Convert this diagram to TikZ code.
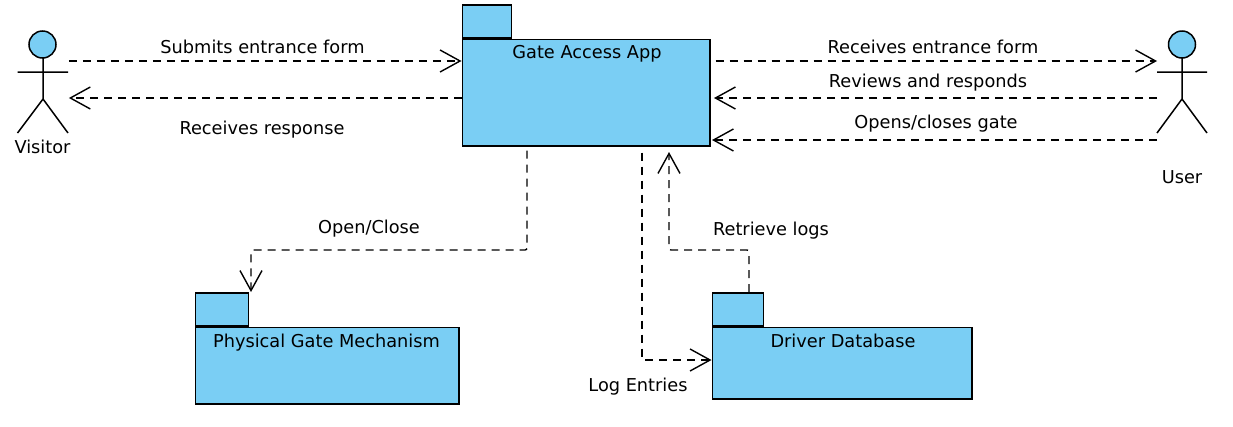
\documentclass[tikz,border=0pt]{standalone}
\usepackage{fontspec}
\setmainfont{DejaVu Sans}
\usepackage{xcolor}
\usetikzlibrary{arrows.meta,positioning}
\definecolor{pkgblue}{RGB}{122,206,244}
\tikzstyle{line} = [draw, line width=1.4pt, dash pattern=on 8pt off 6pt, rounded corners=2pt, -{Straight Barb[length=20pt,width=22pt,line width=1.4pt]}]

\begin{document}
\begin{tikzpicture}[x=1pt, y=-1pt, font=\fontsize{17.75pt}{21pt}\selectfont,
    pkgbody/.style={rectangle, draw, line width=1.5pt, fill=pkgblue, anchor=north west, inner sep=0pt},
    pkgtab/.style={rectangle, draw, line width=1.5pt, fill=pkgblue, anchor=south west, inner sep=0pt, minimum height=33pt},
    pkgname/.style={anchor=base, inner sep=0pt},
    actor/.style={rectangle, anchor=north west, inner sep=0pt, minimum width=51pt, minimum height=102pt},
    stick/.style={draw, line width=1.5pt},
    txt/.style={anchor=base, inner sep=0pt}]
    \useasboundingbox (0,0) rectangle (1233,426);

    % packages
    \node[pkgbody, minimum width=247.5pt, minimum height=106.5pt] (GateApp) at (461.5,38.5) {};
    \node[pkgtab, minimum width=49pt] (GateTab) at (GateApp.north west) {};
    \node[pkgname] (GateName) at (587,58) {Gate Access App};
    \node[pkgbody, minimum width=263.5pt, minimum height=76.5pt] (GateMech) at (194.5,326.5) {};
    \node[pkgtab, minimum width=53pt] (MechTab) at (GateMech.north west) {};
    \node[pkgname] (MechName) at (326.5,347) {Physical Gate Mechanism};
    \node[pkgbody, minimum width=259.5pt, minimum height=71.5pt] (DriverDb) at (711.5,326.5) {};
    \node[pkgtab, minimum width=51pt] (DbTab) at (DriverDb.north west) {};
    \node[pkgname] (DbName) at (843,347) {Driver Database};

    % actors
    \node[actor] (Visitor) at (17.5,31) {};
    \draw[stick, fill=pkgblue] (42.5,44.5) circle (13.5pt);
    \draw[stick] (43,58) -- (43,99) (17.5,72) -- (68,72) (17.5,133) -- (43,99) -- (68,133);
    \node[txt] (VisitorName) at (42.5,153) {Visitor};
    \node[actor] (User) at (1157,31) {};
    \draw[stick, fill=pkgblue] (1182,44.5) circle (13.5pt);
    \draw[stick] (1182,58) -- (1182,99) (1157,72) -- (1207,72) (1157,133) -- (1182,99) -- (1207,133);
    \node[txt] (UserName) at (1182,183) {User};

    \path [line] (Visitor.east |- 0,61) -- (GateApp.west |- 0,61);
    \path [line] (GateApp.west |- 0,98) -- (Visitor.east |- 0,98);
    \path [line] ([xshift=5pt]GateApp.east |- 0,61) -- (User.west |- 0,61);
    \path [line] (User.west |- 0,98) -- ([xshift=3.5pt]GateApp.east |- 0,98);
    \path [line] (User.west |- 0,140) -- ([xshift=1.5pt]GateApp.east |- 0,140);
    \path [line] (GateApp.south -| 527,0) ++(0,4) |- (251,250) -- (MechTab.north east -| 251,0);
    \path [line] (GateApp.south -| 642,0) ++(0,6) |- (DriverDb.west |- 0,360);
    \path [line] (DbTab.north -| 749,0) |- (669,250) -- (669,152);

    \node[txt] (SubmitsText) at (262.5,53) {Submits entrance form};
    \node[txt] (ResponseText) at (262,134) {Receives response};
    \node[txt] (ReceivesText) at (933,53) {Receives entrance form};
    \node[txt] (ReviewsText) at (928,87) {Reviews and responds};
    \node[txt] (OpensText) at (936,128) {Opens/closes gate};
    \node[txt] (OpenCloseText) at (369,233) {Open/Close};
    \node[txt] (RetrieveText) at (771,235) {Retrieve logs};
    \node[txt] (LogText) at (638,391) {Log Entries};
\end{tikzpicture}
\end{document}
